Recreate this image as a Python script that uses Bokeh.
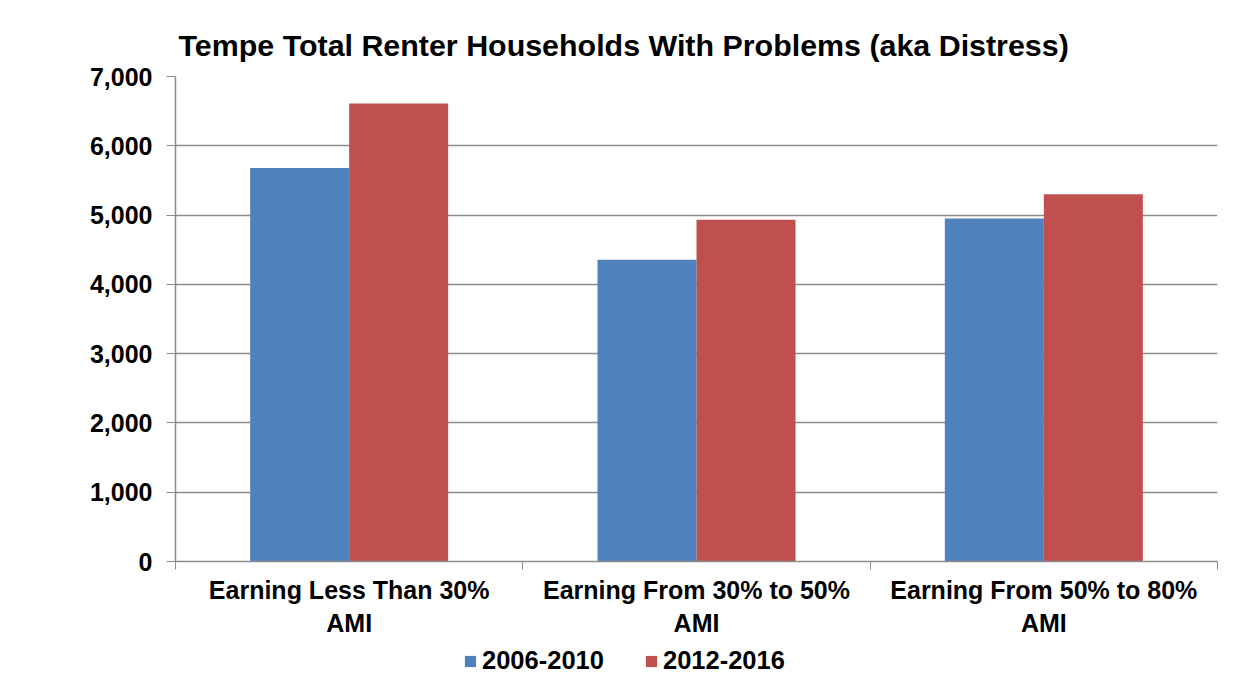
import numpy as np
from bokeh.plotting import figure
from bokeh.layouts import column
from bokeh.models import (ColumnDataSource, FixedTicker, NumeralTickFormatter, Range1d,
                          Legend, LegendItem, Title)
from bokeh.transform import dodge
from bokeh.embed import file_html
from bokeh.resources import INLINE

# ---- data ----
categories = ["Earning Less Than 30%\nAMI",
              "Earning From 30% to 50%\nAMI",
              "Earning From 50% to 80%\nAMI"]
series_names = ["2006-2010", "2012-2016"]
values_2006_2010 = [5681, 4354, 4951]
values_2012_2016 = [6609, 4933, 5299]
y_ticks = [0, 1000, 2000, 3000, 4000, 5000, 6000, 7000]
title_text = "Tempe Total Renter Households With Problems (aka Distress)"

BLUE = "#4F81BD"
RED = "#C0504D"
GRID = "#8c8c8c"
FONT = "Liberation Sans"

centers = np.arange(len(categories)) + 0.5
source = ColumnDataSource(dict(x=centers, a=values_2006_2010, b=values_2012_2016))

p = figure(width=1238, height=640, output_backend="svg", toolbar_location=None,
           x_range=Range1d(0, len(categories)), y_range=Range1d(0, 7000),
           min_border_left=175, min_border_right=21, min_border_top=76,
           min_border_bottom=79)
p.outline_line_color = None
p.background_fill_color = "white"
p.border_fill_color = "white"

p.title = Title(text=title_text, align="left", offset=3, standoff=29,
                text_font=FONT, text_font_style="bold", text_font_size="30.4px",
                text_color="black")

bw = 0.285
r1 = p.vbar(x=dodge("x", -bw / 2, range=p.x_range), top="a", width=bw, source=source,
            fill_color=BLUE, line_color=None)
r2 = p.vbar(x=dodge("x", bw / 2, range=p.x_range), top="b", width=bw, source=source,
            fill_color=RED, line_color=None)

# x axis: labels at centers, ticks at category boundaries
xa = p.xaxis[0]
xa.ticker = FixedTicker(ticks=list(centers),
                        minor_ticks=list(range(len(categories) + 1)))
xa.major_label_overrides = {float(c): lab for c, lab in zip(centers, categories)}
xa.major_tick_out = 0
xa.major_tick_in = 0
xa.minor_tick_out = 8
xa.minor_tick_in = 0
xa.minor_tick_line_color = GRID
xa.axis_line_color = GRID
xa.axis_line_width = 1.5
xa.major_label_text_font = FONT
xa.major_label_text_font_style = "bold"
xa.major_label_text_font_size = "25px"
xa.major_label_text_color = "black"
xa.major_label_standoff = 6

ya = p.yaxis[0]
ya.ticker = FixedTicker(ticks=y_ticks)
ya.formatter = NumeralTickFormatter(format="0,0")
ya.major_tick_out = 9
ya.major_tick_in = 0
ya.minor_tick_out = 0
ya.minor_tick_in = 0
ya.major_tick_line_color = GRID
ya.axis_line_color = GRID
ya.axis_line_width = 1.5
ya.major_label_text_font = FONT
ya.major_label_text_font_style = "bold"
ya.major_label_text_font_size = "25px"
ya.major_label_text_color = "black"
ya.major_label_standoff = 14

p.xgrid.grid_line_color = None
p.ygrid.grid_line_color = GRID
p.ygrid.grid_line_width = 1.5

# legend strip below the chart (its y range lies far above the data, so only the
# legend swatches of these renderers are visible)
lg = figure(width=1238, height=52, output_backend="svg", toolbar_location=None,
            x_range=Range1d(0, len(categories)), y_range=Range1d(100000, 100001),
            min_border_left=175, min_border_right=21, min_border_top=0,
            min_border_bottom=0)
lg.axis.visible = False
lg.grid.visible = False
lg.outline_line_color = None
lg.border_fill_color = "white"
lg1 = lg.vbar(x="x", top="a", width=bw, source=source, fill_color=BLUE, line_color=None)
lg2 = lg.vbar(x="x", top="b", width=bw, source=source, fill_color=RED, line_color=None)

legend = Legend(items=[LegendItem(label=series_names[0], renderers=[lg1]),
                       LegendItem(label=series_names[1], renderers=[lg2])],
                orientation="horizontal", location=(288, 17))
legend.border_line_color = None
legend.background_fill_alpha = 0
legend.padding = 0
legend.margin = 0
legend.spacing = 40
legend.label_standoff = 5
legend.glyph_width = 14
legend.glyph_height = 14
legend.label_text_font = FONT
legend.label_text_font_style = "bold"
legend.label_text_font_size = "25.5px"
legend.label_text_color = "black"
lg.add_layout(legend, "center")

layout = column(p, lg, spacing=0)
open("out.html", "w").write(file_html(layout, INLINE))
